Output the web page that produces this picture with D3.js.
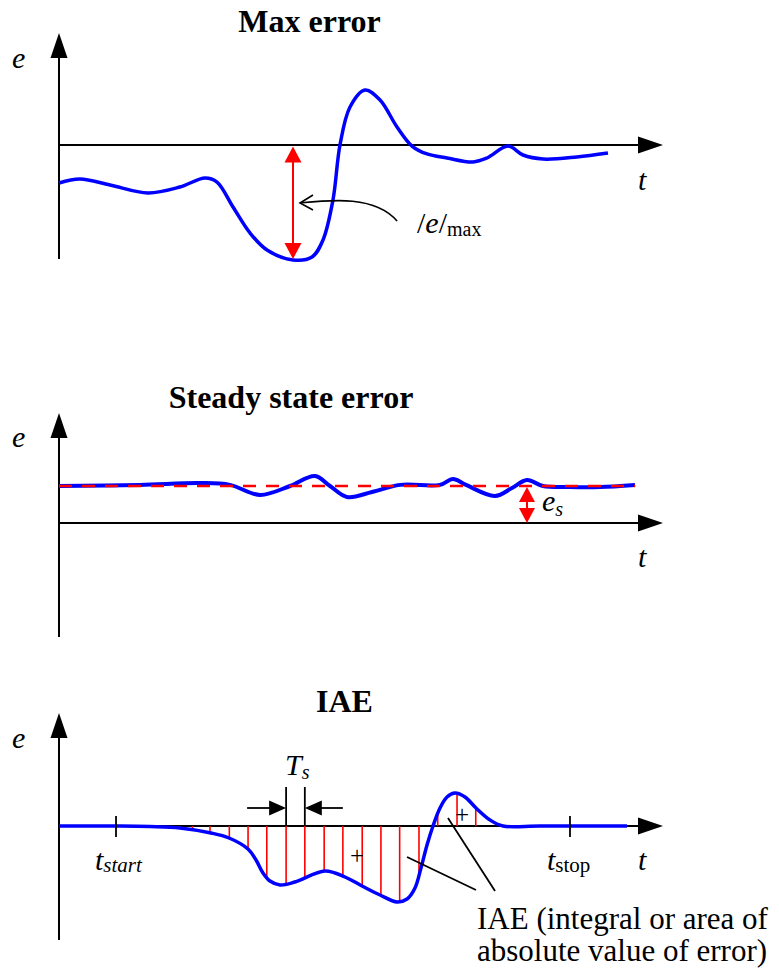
<!DOCTYPE html>
<html><head><meta charset="utf-8">
<script src="https://cdn.jsdelivr.net/npm/d3@7"></script>
<style>
body{margin:0;background:#fff}
svg{display:block;background:#fff}
svg text{font-family:"Liberation Serif","DejaVu Serif",serif;fill:#000}
</style>
</head><body>
<svg id="chart" width="779" height="976" font-family="Liberation Serif, DejaVu Serif, serif"></svg>
<script>
// ---------------- DATA (t in 0..100, e in panel units) ----------------
const titles = ["Max error", "Steady state error", "IAE"];

// Panel 1: Max error
const maxErrT = [0,3.48,8.44,14.74,20.03,24.17,26.16,28.81,31.62,34.44,38.74,41.89,43.71,45.36,46.52,48.18,50.66,53.15,55.96,58.44,60.93,64.24,68.54,70.86,74.34,76.82,80.13,85.76,90.89];
const maxErrE = [-0.330,-0.296,-0.348,-0.417,-0.365,-0.287,-0.322,-0.539,-0.765,-0.913,-1.0,-0.974,-0.826,-0.478,0.0,0.330,0.478,0.391,0.157,-0.009,-0.078,-0.113,-0.148,-0.113,-0.009,-0.087,-0.122,-0.104,-0.070];
const maxErrAt = 38.74;     // time of |e|max
const maxErrValue = -1.0;

// Panel 2: Steady state error
const ssT = [0,13.41,23.34,28.31,33.28,38.25,42.38,44.87,47.68,51.82,56.46,63.08,65.23,67.38,72.19,75.0,77.48,80.13,84.6,89.57,95.36];
const ssE = [1.0,1.03,1.08,1.03,0.757,1.0,1.27,1.0,0.703,0.838,1.03,1.03,1.19,1.03,0.73,0.946,1.16,1.0,0.973,0.973,1.03];
const esValue = 1.0;
const esAt = 77.48;
const esLineEnd = 95.4;

// Panel 3: IAE
const iaeT = [0,10.1,15.07,20.03,25.17,28.15,31.29,32.62,33.77,34.93,36.59,39.07,44.04,47.35,50.17,53.15,55.96,57.62,58.94,59.93,60.93,61.92,63.08,64.24,65.56,67.22,69.04,71.36,73.51,79.64,94.04];
const iaeE = [0,0,-0.007,-0.026,-0.092,-0.158,-0.303,-0.447,-0.618,-0.724,-0.776,-0.737,-0.592,-0.671,-0.789,-0.908,-1.0,-0.961,-0.816,-0.553,-0.25,0,0.237,0.382,0.434,0.382,0.237,0.079,0,0,0];
const sampleT = [20,22.1,25.0,28.2,31.3,34.4,37.6,40.7,43.9,47.0,50.2,53.3,56.4,59.6,62.7,65.9,69.0];
const tStart = 9.44, tStop = 84.6;
const tsIndex = [6, 7];
const plusMarks = [[49.34,-0.421],[66.72,0.118]];
const iaeNoteLines = [[[57.62,-0.408],[69.04,-0.842]],[[64.4,0.105],[72.19,-0.855]]];
const iaeNote = ["IAE (integral or area of", "absolute value of error)"];

// ---------------- LAYOUT ----------------
const FONT = "'Liberation Serif', 'DejaVu Serif', serif";
const svg = d3.select("#chart");
const x = d3.scaleLinear().domain([0,100]).range([59,663]);
const X0 = 59, XTIP = 663;
const BLUE = "#0000ff", RED = "#ff0000";

const panels = [
  {zero:145, unit:115, top:33, bottom:259, titleX:309.5, titleY:32, eY:68, tY:190},
  {zero:523, unit:37, top:413, bottom:637, titleX:291, titleY:408, eY:447, tY:567},
  {zero:826, unit:76, top:713, bottom:940, titleX:344.5, titleY:712, eY:748, tY:870}
];
panels.forEach(p => {
  p.y = d3.scaleLinear().domain([-1,1]).range([p.zero + p.unit, p.zero - p.unit]);
});

function txt(g, xx, yy, size) {
  return g.append("text").attr("x", xx).attr("y", yy).attr("font-size", size).style("font-family", FONT);
}

function head(g, tx, ty, dx, dy, len, hw, fill) {
  const bx = tx - dx*len, by = ty - dy*len;
  const px = -dy, py = dx;
  g.append("path")
    .attr("d", `M${tx},${ty}L${bx+px*hw},${by+py*hw}L${bx-px*hw},${by-py*hw}Z`)
    .attr("fill", fill);
}

function drawAxes(g, p, i) {
  g.append("line").attr("x1", X0).attr("x2", X0).attr("y1", p.bottom).attr("y2", p.top + 20)
    .attr("stroke", "#000").attr("stroke-width", 2);
  head(g, X0, p.top, 0, -1, 25, 8.5, "#000");
  g.append("line").attr("x1", X0).attr("x2", XTIP - 20).attr("y1", p.zero).attr("y2", p.zero)
    .attr("stroke", "#000").attr("stroke-width", 2);
  head(g, XTIP, p.zero, 1, 0, 25, 8.5, "#000");
  txt(g, p.titleX, p.titleY, 32).attr("text-anchor", "middle").attr("font-weight", "bold").text(titles[i]);
  txt(g, 12, p.eY, 30).attr("font-style", "italic").text("e");
  txt(g, 638, p.tY, 30).attr("font-style", "italic").text("t");
}

function lineGen(p) {
  return d3.line().x(d => x(d[0])).y(d => p.y(d[1])).curve(d3.curveCatmullRom.alpha(0.5));
}

// ---------------- PANEL 1 ----------------
{
  const p = panels[0];
  const g = svg.append("g");
  drawAxes(g, p, 0);
  g.append("path").datum(maxErrT.map((t,i)=>[t,maxErrE[i]]))
    .attr("d", lineGen(p)).attr("fill","none").attr("stroke",BLUE).attr("stroke-width",3.5);
  const ax = x(maxErrAt);
  const y0 = p.y(0) + 1.5, y1 = p.y(maxErrValue) - 1;
  g.append("line").attr("x1",ax).attr("x2",ax).attr("y1",y0+12).attr("y2",y1-12)
    .attr("stroke",RED).attr("stroke-width",2);
  head(g, ax, y0, 0, -1, 16, 8.5, RED);
  head(g, ax, y1, 0, 1, 16, 8.5, RED);
  // curved pointer
  const P0 = [x(55.97), p.y(-0.661)], C1 = [x(52.3), p.y(-0.435)], C2 = [x(44.9), p.y(-0.478)], P3 = [x(39.9), p.y(-0.504)];
  g.append("path").attr("d", `M${P0}C${C1} ${C2} ${P3}`).attr("fill","none").attr("stroke","#000").attr("stroke-width",1.6);
  g.append("path").attr("d", `M${P3[0]+13},${P3[1]-8}L${P3[0]},${P3[1]}L${P3[0]+13},${P3[1]+7}`)
    .attr("fill","none").attr("stroke","#000").attr("stroke-width",1.6);
  const lab = txt(g, 417, 233, 30);
  lab.append("tspan").text("/");
  lab.append("tspan").attr("font-style","italic").text("e");
  lab.append("tspan").text("/");
  lab.append("tspan").attr("font-size", 20).attr("dy", 3).text("max");
}

// ---------------- PANEL 2 ----------------
{
  const p = panels[1];
  const g = svg.append("g");
  drawAxes(g, p, 1);
  g.append("path").datum(ssT.map((t,i)=>[t,ssE[i]]))
    .attr("d", lineGen(p)).attr("fill","none").attr("stroke",BLUE).attr("stroke-width",4);
  g.append("line").attr("x1", x(0)).attr("x2", x(esLineEnd)).attr("y1", p.y(esValue)).attr("y2", p.y(esValue))
    .attr("stroke",RED).attr("stroke-width",2.6).attr("stroke-dasharray","13,10");
  const ax = x(esAt);
  const y0 = p.y(esValue) + 1, y1 = p.y(0);
  g.append("line").attr("x1",ax).attr("x2",ax).attr("y1",y0+10).attr("y2",y1-10)
    .attr("stroke",RED).attr("stroke-width",2);
  head(g, ax, y0, 0, -1, 15, 8, RED);
  head(g, ax, y1, 0, 1, 15, 8, RED);
  const lab = txt(g, 542, 511, 30).attr("font-style","italic");
  lab.append("tspan").text("e");
  lab.append("tspan").attr("font-size", 20).attr("dy", 5).text("s");
}

// ---------------- PANEL 3 ----------------
{
  const p = panels[2];
  const g = svg.append("g");
  drawAxes(g, p, 2);
  const lg = g.append("g");
  const curve = g.append("path").datum(iaeT.map((t,i)=>[t,iaeE[i]]))
    .attr("d", lineGen(p)).attr("fill","none").attr("stroke",BLUE).attr("stroke-width",3.5);
  const node = curve.node(), L = node.getTotalLength();
  const pts = d3.range(0, 3001).map(k => node.getPointAtLength(L*k/3000));
  function yAt(px) {
    let best = pts[0];
    for (const q of pts) if (Math.abs(q.x - px) < Math.abs(best.x - px)) best = q;
    return best.y;
  }
  sampleT.forEach(t => {
    lg.append("line").attr("x1", x(t)).attr("x2", x(t)).attr("y1", p.zero).attr("y2", yAt(x(t)))
      .attr("stroke", RED).attr("stroke-width", 1.6);
  });
  [tStart, tStop].forEach(t => {
    g.append("line").attr("x1", x(t)).attr("x2", x(t)).attr("y1", p.zero - 10).attr("y2", p.zero + 11)
      .attr("stroke","#000").attr("stroke-width",1.8);
  });
  const xa = x(sampleT[tsIndex[0]]), xb = x(sampleT[tsIndex[1]]);
  [xa, xb].forEach(xx => g.append("line").attr("x1",xx).attr("x2",xx).attr("y1",787).attr("y2",p.zero)
      .attr("stroke","#000").attr("stroke-width",1.8));
  const ay = 808;
  g.append("line").attr("x1", xa - 39).attr("x2", xa - 14).attr("y1", ay).attr("y2", ay).attr("stroke","#000").attr("stroke-width",1.8);
  head(g, xa, ay, 1, 0, 17, 7.5, "#000");
  g.append("line").attr("x1", xb + 38).attr("x2", xb + 14).attr("y1", ay).attr("y2", ay).attr("stroke","#000").attr("stroke-width",1.8);
  head(g, xb, ay, -1, 0, 17, 7.5, "#000");
  const ts = txt(g, 285, 775, 30).attr("font-style","italic");
  ts.append("tspan").text("T");
  ts.append("tspan").attr("font-size", 20).attr("dy", 4).text("s");
  const t1 = txt(g, 95, 870, 30).attr("font-style","italic");
  t1.append("tspan").text("t");
  t1.append("tspan").attr("font-size", 21).attr("dy", 2).text("start");
  const t2 = txt(g, 547, 870, 30);
  t2.append("tspan").attr("font-style","italic").text("t");
  t2.append("tspan").attr("font-size", 21).attr("dy", 2).text("stop");
  plusMarks.forEach(m => txt(g, x(m[0]), p.y(m[1]) + 6, 25).attr("text-anchor","middle").text("+"));
  iaeNoteLines.forEach(l => g.append("line")
    .attr("x1", x(l[0][0])).attr("y1", p.y(l[0][1])).attr("x2", x(l[1][0])).attr("y2", p.y(l[1][1]))
    .attr("stroke","#000").attr("stroke-width",1.8));
  iaeNote.forEach((s, i) => txt(g, 477, 929 + i*32, 31).text(s));
}
</script>
</body></html>
